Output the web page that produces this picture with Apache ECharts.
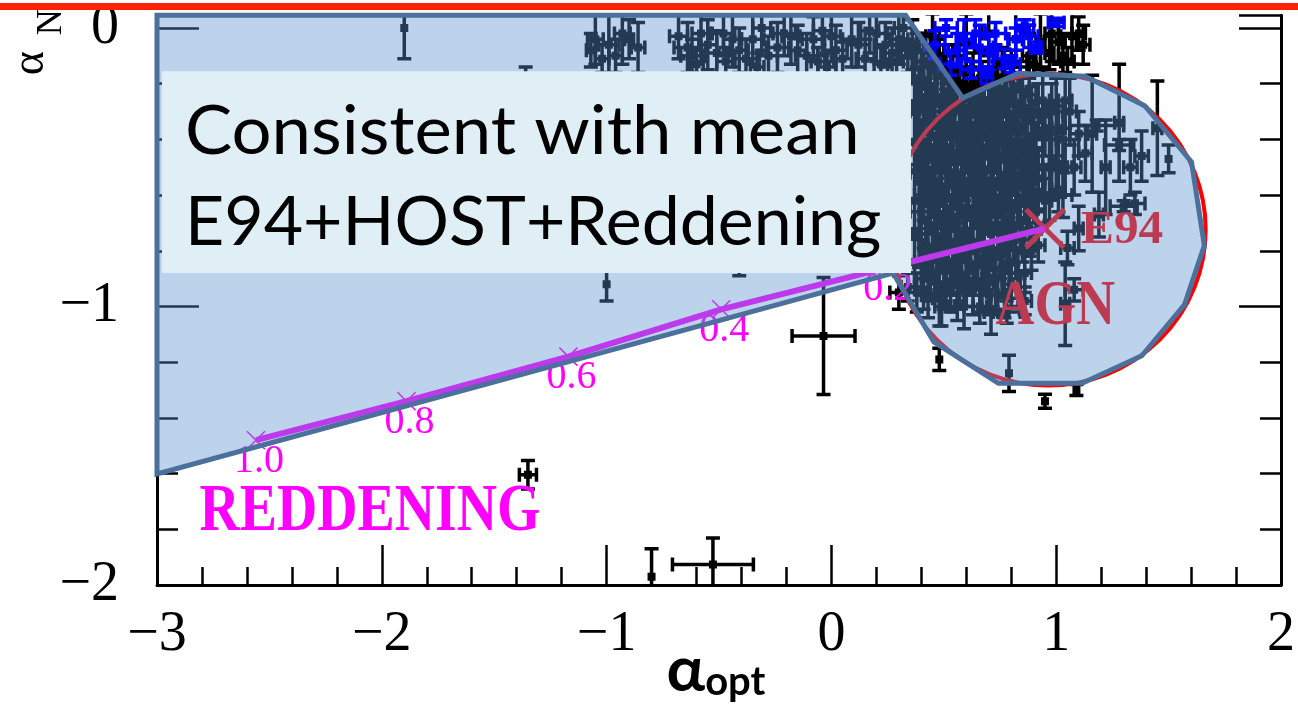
<!DOCTYPE html>
<html>
<head>
<meta charset="utf-8">
<script src="https://cdn.jsdelivr.net/npm/echarts@6/dist/echarts.min.js"></script>
<style>
html,body{margin:0;padding:0;background:#fff;}
#chart{width:1298px;height:706px;}
</style>
</head>
<body>
<div id="chart"></div>
<script>
// Axis ranges
const X_MIN = -3, X_MAX = 2;
const Y_MIN = -2, Y_MAX = 0.046;
const xTickValues = [-3, -2, -1, 0, 1, 2];
const yTickValues = [-2, -1, 0];

// Sources: [alpha_opt, alpha_N, err_opt, err_N]
const topClusterPoints = [
  [-1.05,-0.04,0.035,0.09],[-0.99,-0.06,0.045,0.11],[-0.93,-0.02,0.035,0.11],[-0.86,-0.07,0.03,0.09],[-1.02,-0.11,0.03,0.05],
  [-1.07,-0.08,0.02,0.06],[-0.96,-0.10,0.03,0.06],[-0.90,-0.04,0.02,0.07],
  [-0.64,-0.07,0.06,0.09],[-0.58,-0.02,0.04,0.10],[-0.51,-0.09,0.05,0.08],[-0.44,-0.04,0.04,0.10],[-0.38,-0.11,0.05,0.07],
  [-0.31,0.00,0.04,0.08],[-0.24,-0.07,0.05,0.09],[-0.18,-0.03,0.04,0.10],[-0.11,-0.10,0.05,0.08],[-0.04,-0.01,0.04,0.09],
  [0.02,-0.08,0.05,0.09],[0.09,-0.04,0.04,0.10],[0.15,-0.11,0.04,0.07],[0.20,-0.02,0.05,0.10],[0.27,-0.09,0.04,0.09],
  [0.32,0.00,0.04,0.08],[-0.60,-0.13,0.03,0.05],[-0.33,-0.14,0.03,0.05],[-0.02,-0.14,0.04,0.05],[0.22,-0.13,0.03,0.06],
  [0.36,-0.06,0.03,0.09],[0.41,-0.12,0.04,0.10],[0.45,-0.03,0.03,0.08],
  [-0.68,-0.03,0.04,0.08],[-0.62,-0.10,0.05,0.06],[-0.55,-0.06,0.04,0.09],[-0.48,-0.02,0.05,0.08],[-0.47,-0.12,0.04,0.05],
  [-0.41,-0.08,0.04,0.08],[-0.35,-0.04,0.05,0.09],[-0.28,-0.10,0.04,0.07],[-0.21,-0.02,0.05,0.08],[-0.15,-0.08,0.04,0.09],
  [-0.08,-0.04,0.05,0.08],[-0.06,-0.12,0.03,0.05],[0.00,-0.03,0.04,0.09],[0.05,-0.11,0.04,0.06],[0.12,-0.06,0.05,0.08],
  [0.17,-0.01,0.04,0.08],[0.24,-0.06,0.05,0.08],[0.29,-0.12,0.03,0.06],[0.30,-0.04,0.04,0.09],[0.34,-0.10,0.03,0.06]
];

const corePoints = [
  [0.37,-0.18,0.04,0.12],[0.37,-0.41,0.03,0.10],[0.37,-0.62,0.05,0.13],[0.37,-0.84,0.03,0.09],
  [0.39,-0.28,0.03,0.14],[0.39,-0.52,0.04,0.10],[0.39,-0.74,0.03,0.12],
  [0.41,-0.12,0.05,0.10],[0.41,-0.36,0.03,0.12],[0.41,-0.60,0.04,0.09],[0.41,-0.90,0.04,0.11],
  [0.43,-0.22,0.03,0.13],[0.43,-0.47,0.05,0.11],[0.43,-0.70,0.03,0.14],[0.43,-0.96,0.03,0.08],
  [0.45,-0.30,0.04,0.10],[0.45,-0.55,0.03,0.13],[0.45,-0.80,0.05,0.10],
  [0.47,-0.16,0.03,0.12],[0.47,-0.42,0.04,0.10],[0.47,-0.66,0.03,0.12],[0.47,-0.88,0.04,0.09],
  [0.49,-0.25,0.05,0.11],[0.49,-0.50,0.03,0.14],[0.49,-0.76,0.04,0.10],[0.49,-1.00,0.03,0.07],
  [0.51,-0.34,0.03,0.12],[0.51,-0.60,0.05,0.11],[0.51,-0.84,0.03,0.12],
  [0.53,-0.20,0.04,0.10],[0.53,-0.44,0.03,0.13],[0.53,-0.70,0.04,0.10],[0.53,-0.93,0.05,0.09],
  [0.55,-0.28,0.03,0.12],[0.55,-0.55,0.04,0.10],[0.55,-0.80,0.03,0.13],
  [0.57,-0.38,0.05,0.11],[0.57,-0.64,0.03,0.12],[0.57,-0.88,0.04,0.10],
  [0.59,-0.24,0.03,0.10],[0.59,-0.48,0.04,0.14],[0.59,-0.74,0.03,0.10],[0.59,-1.00,0.04,0.08],
  [0.61,-0.32,0.04,0.12],[0.61,-0.58,0.03,0.11],[0.61,-0.84,0.05,0.12],
  [0.63,-0.20,0.03,0.11],[0.63,-0.44,0.05,0.10],[0.63,-0.68,0.03,0.13],[0.63,-0.94,0.03,0.09],
  [0.65,-0.30,0.04,0.12],[0.65,-0.56,0.03,0.10],[0.65,-0.79,0.04,0.12],
  [0.67,-0.22,0.03,0.10],[0.67,-0.46,0.04,0.13],[0.67,-0.70,0.03,0.10],[0.67,-0.92,0.05,0.10],
  [0.69,-0.36,0.05,0.11],[0.69,-0.62,0.03,0.12],[0.69,-0.86,0.04,0.09],
  [0.71,-0.26,0.03,0.12],[0.71,-0.50,0.04,0.10],[0.71,-0.74,0.03,0.13],[0.71,-1.02,0.03,0.08],
  [0.73,-0.18,0.04,0.10],[0.73,-0.40,0.03,0.12],[0.73,-0.64,0.05,0.10],[0.73,-0.90,0.03,0.11],
  [0.75,-0.30,0.03,0.13],[0.75,-0.56,0.04,0.11],[0.75,-0.80,0.03,0.10],
  [0.77,-0.22,0.05,0.10],[0.77,-0.46,0.03,0.12],[0.77,-0.70,0.04,0.12],[0.77,-0.96,0.03,0.08],
  [0.79,-0.34,0.03,0.11],[0.79,-0.60,0.04,0.13],[0.79,-0.84,0.03,0.10],
  [0.81,-0.26,0.04,0.12],[0.81,-0.50,0.03,0.10],[0.81,-0.74,0.05,0.11],
  [0.83,-0.38,0.03,0.12],[0.83,-0.62,0.04,0.10],[0.83,-0.88,0.03,0.09],
  [0.85,-0.28,0.04,0.10],[0.85,-0.52,0.03,0.12],[0.85,-0.76,0.04,0.08],
  [0.87,-0.42,0.03,0.13],[0.87,-0.64,0.04,0.10],
  [0.89,-0.32,0.04,0.11],[0.89,-0.56,0.03,0.12],[0.89,-0.80,0.03,0.07],
  [0.91,-0.44,0.03,0.10],[0.91,-0.66,0.04,0.08],
  [0.94,-0.26,0.03,0.12],[0.94,-0.50,0.04,0.10],
  [0.97,-0.38,0.03,0.11],[0.97,-0.60,0.03,0.09],
  [1.00,-0.28,0.04,0.10],[1.00,-0.48,0.03,0.12],
  [1.03,-0.40,0.03,0.10],[1.03,-0.60,0.04,0.08],
  [1.06,-0.30,0.03,0.12],[1.08,-0.50,0.03,0.10],[1.10,-0.38,0.04,0.08],
  [0.30,-0.95,0.04,0.06],[0.34,-0.93,0.03,0.05],
  [0.38,-0.30,0.03,0.10],[0.38,-0.95,0.04,0.07],[0.38,-0.08,0.03,0.06],
  [0.40,-0.18,0.04,0.10],[0.40,-0.44,0.03,0.11],[0.40,-0.66,0.05,0.10],[0.40,-0.84,0.03,0.12],
  [0.42,-0.28,0.03,0.10],[0.42,-0.52,0.04,0.12],[0.42,-0.78,0.03,0.10],
  [0.44,-0.14,0.04,0.11],[0.44,-0.38,0.03,0.10],[0.44,-0.62,0.04,0.12],[0.44,-0.88,0.03,0.10],
  [0.46,-0.24,0.03,0.12],[0.46,-0.48,0.05,0.10],[0.46,-0.72,0.03,0.11],
  [0.48,-0.34,0.04,0.10],[0.48,-0.58,0.03,0.12],[0.48,-0.10,0.03,0.07],[0.48,-0.84,0.03,0.10],
  [0.50,-0.18,0.03,0.12],[0.50,-0.42,0.04,0.10],[0.50,-0.68,0.03,0.12],[0.50,-0.92,0.04,0.09],
  [0.52,-0.26,0.04,0.11],[0.52,-0.52,0.03,0.10],[0.52,-0.76,0.05,0.12],
  [0.54,-0.14,0.03,0.08],[0.54,-0.36,0.04,0.12],[0.54,-0.62,0.03,0.11],[0.54,-0.86,0.03,0.10],
  [0.56,-0.20,0.03,0.10],[0.56,-0.46,0.05,0.12],[0.56,-0.70,0.03,0.10],[0.56,-0.92,0.04,0.09],
  [0.58,-0.30,0.04,0.11],[0.58,-0.56,0.03,0.12],[0.58,-0.82,0.03,0.10],
  [0.60,-0.16,0.03,0.10],[0.60,-0.40,0.04,0.12],[0.60,-0.66,0.03,0.11],[0.60,-0.90,0.05,0.10],
  [0.62,-0.26,0.03,0.12],[0.62,-0.50,0.04,0.10],[0.62,-0.76,0.03,0.12],
  [0.64,-0.36,0.04,0.11],[0.64,-0.60,0.03,0.12],[0.64,-0.86,0.04,0.10],
  [0.66,-0.18,0.03,0.10],[0.66,-0.44,0.05,0.12],[0.66,-0.68,0.03,0.11],[0.66,-1.00,0.03,0.06],
  [0.68,-0.28,0.04,0.12],[0.68,-0.54,0.03,0.10],[0.68,-0.78,0.04,0.12],
  [0.70,-0.16,0.03,0.09],[0.70,-0.40,0.03,0.12],[0.70,-0.64,0.04,0.10],[0.70,-0.90,0.03,0.11],
  [0.72,-0.32,0.04,0.11],[0.72,-0.56,0.03,0.12],[0.72,-0.80,0.05,0.10],
  [0.74,-0.24,0.03,0.12],[0.74,-0.48,0.04,0.10],[0.74,-0.72,0.03,0.11],[0.74,-0.96,0.03,0.07],
  [0.76,-0.36,0.03,0.12],[0.76,-0.62,0.04,0.10],[0.76,-0.86,0.03,0.10],
  [0.78,-0.28,0.04,0.11],[0.78,-0.52,0.03,0.12],[0.78,-0.78,0.03,0.10],
  [0.80,-0.18,0.03,0.10],[0.80,-0.42,0.04,0.12],[0.80,-0.66,0.03,0.11],[0.80,-0.92,0.04,0.08],
  [0.82,-0.32,0.03,0.12],[0.82,-0.56,0.04,0.10],[0.82,-0.80,0.03,0.10],
  [0.84,-0.22,0.04,0.10],[0.84,-0.46,0.03,0.12],[0.84,-0.70,0.03,0.10],
  [0.86,-0.34,0.03,0.11],[0.86,-0.58,0.04,0.12],[0.86,-0.88,0.03,0.07],
  [0.88,-0.24,0.03,0.10],[0.88,-0.50,0.03,0.11],[0.88,-0.72,0.04,0.10],
  [0.90,-0.38,0.03,0.12],[0.90,-0.60,0.03,0.10],
  [0.92,-0.30,0.04,0.10],[0.92,-0.54,0.03,0.11],[0.92,-0.78,0.03,0.06],
  [0.95,-0.36,0.03,0.10],[0.95,-0.62,0.03,0.08],
  [0.98,-0.30,0.03,0.10],[0.98,-0.50,0.04,0.10],
  [1.01,-0.36,0.03,0.10],[1.01,-0.58,0.03,0.08],
  [1.04,-0.26,0.03,0.10],[1.04,-0.50,0.03,0.10]
];

const outerPoints = [
  [0.48,-0.97,0.03,0.10],[0.61,-0.93,0.09,0.03],[0.56,-1.00,0.03,0.05],[0.70,-0.96,0.04,0.07],
  [0.78,-1.02,0.06,0.04],[1.04,-0.99,0.02,0.15],[1.08,-0.94,0.04,0.04],[0.86,-0.98,0.03,0.05],
  [0.48,-1.19,0,0.04],[0.79,-1.24,0,0.065],[0.95,-1.34,0,0.025],[1.09,-1.30,0,0.02],
  [0.60,-0.05,0.03,0.10],[0.70,-0.02,0.03,0.08],[0.82,-0.04,0.03,0.10],[0.88,-0.10,0.03,0.08],
  [0.76,-0.13,0.04,0.06],[0.93,-0.05,0.02,0.10],[0.98,-0.02,0.03,0.10],[1.07,-0.03,0.05,0.10],
  [1.03,-0.10,0.02,0.08],[1.12,-0.06,0.03,0.07],
  [0.97,-0.09,0.02,0.06],[1.01,-0.05,0.03,0.08],[1.05,-0.12,0.03,0.05],[1.10,-0.02,0.03,0.06],[0.90,-0.13,0.03,0.04],
  [1.28,-0.34,0.02,0.21],[1.45,-0.36,0.02,0.17],[1.50,-0.47,0,0.05],
  [1.16,-0.38,0.02,0.21],[1.18,-0.35,0.12,0.02],[1.38,-0.46,0.03,0.09],[1.35,-0.63,0.045,0.04],
  [1.22,-0.50,0.02,0.17],[1.28,-0.42,0.065,0.02],[1.19,-0.67,0.02,0.08],[1.13,-0.45,0.03,0.10],
  [1.33,-0.50,0.03,0.10],[1.30,-0.64,0.06,0.02],[1.05,-0.79,0.03,0.06],[1.10,-0.72,0.02,0.08],
  [-1.90,0.00,0,0.11],[-1.36,-0.25,0,0.11],[-1.00,-0.92,0,0.06],[-0.41,-0.80,0,0.09],
  [-0.035,-1.106,0.14,0.21],[-1.35,-1.604,0.038,0.051],[-0.80,-1.97,0,0.10],[-0.527,-1.926,0.18,0.095]
];

const bluePoints = [
  [0.46,-0.06,0.045,0.05],[0.53,-0.13,0.05,0.04],[0.59,-0.04,0.035,0.07],[0.62,-0.15,0.045,0.03],
  [0.66,-0.07,0.06,0.08],[0.73,-0.02,0.045,0.04],[0.77,-0.11,0.05,0.035],[0.82,-0.04,0.035,0.04],
  [0.86,0.01,0.04,0.02],[0.91,-0.07,0.025,0.02],[1.00,0.02,0.035,0.015],[0.51,0.00,0.05,0.03],
  [0.69,-0.17,0.025,0.03],
  [0.56,-0.08,0.04,0.06],[0.64,-0.02,0.05,0.05],[0.70,-0.09,0.04,0.06],[0.80,-0.13,0.04,0.03],
  [0.88,-0.03,0.04,0.04]
];

// Reddening vector from the E94 template, marked in A_V steps
const reddeningPath = [[0.95,-0.72],[0.24,-0.862],[-0.49,-1.01],[-1.17,-1.18],[-1.89,-1.34],[-2.56,-1.48]];
const reddeningSteps = ['0.2','0.4','0.6','0.8','1.0'];

// Template / region annotations
const e94Point = [0.95, -0.72];
const agnLabelAt = [0.996, -1.004];
const reddeningLabelAt = [-2.053, -1.739];
const agnCircleCenter = [0.965, -0.724];
const agnCircleRadius = [0.70, 0.56];

// Shaded region: wedge plus the AGN locus
const regionPolygon = [
  [-3, Y_MAX],[0.33, Y_MAX],[0.584,-0.251],[0.832,-0.163],[1.128,-0.173],[1.394,-0.279],
  [1.602,-0.481],[1.659,-0.781],[1.571,-0.993],[1.381,-1.177],[1.115,-1.276],[0.743,-1.276],
  [0.456,-1.127],[0.274,-0.880],[-3,-1.601]
];

const noteBox = [[-2.978,-0.155],[0.354,-0.880]];
const noteLines = ['Consistent with mean', 'E94+HOST+Reddening'];

function fmtTick(v){
  if (Math.abs(v - Math.round(v)) > 1e-9) return '';
  const r = Math.round(v);
  return r < 0 ? '\u2212' + (-r) : String(r);
}

function errorBars(color){
  return function(params, api){
    const x = api.value(0), y = api.value(1), xe = api.value(2), ye = api.value(3);
    const c = api.coord([x, y]);
    const cap = 7;
    const kids = [];
    const st = () => ({stroke: color, lineWidth: 3.5});
    if (ye > 0){
      const t = api.coord([x, y + ye]), b = api.coord([x, y - ye]);
      kids.push({type:'line', shape:{x1:c[0], y1:t[1], x2:c[0], y2:b[1]}, style:st()});
      kids.push({type:'line', shape:{x1:c[0]-cap, y1:t[1], x2:c[0]+cap, y2:t[1]}, style:st()});
      kids.push({type:'line', shape:{x1:c[0]-cap, y1:b[1], x2:c[0]+cap, y2:b[1]}, style:st()});
    }
    if (xe > 0){
      const l = api.coord([x - xe, y]), r = api.coord([x + xe, y]);
      kids.push({type:'line', shape:{x1:l[0], y1:c[1], x2:r[0], y2:c[1]}, style:st()});
      kids.push({type:'line', shape:{x1:l[0], y1:c[1]-cap, x2:l[0], y2:c[1]+cap}, style:st()});
      kids.push({type:'line', shape:{x1:r[0], y1:c[1]-cap, x2:r[0], y2:c[1]+cap}, style:st()});
    }
    kids.push({type:'rect', shape:{x:c[0]-4, y:c[1]-4, width:8, height:8}, style:{fill: color}});
    return {type:'group', children: kids};
  };
}

const chart = echarts.init(document.getElementById('chart'), null, {renderer:'canvas'});

const tickStyle = {color:'#000', width:2.5};
function yAxisCfg(pos, showLabel){
  return {
    type:'value', position: pos, min: Y_MIN, max: Y_MAX, interval: 1,
    axisLine:{show:true, onZero:false, lineStyle:{color:'#000', width:3}},
    axisTick:{show:true, inside:true, length:42, lineStyle:tickStyle},
    minorTick:{show:true, splitNumber:5, length:21, lineStyle:tickStyle},
    splitLine:{show:false}, minorSplitLine:{show:false},
    axisLabel:{show: showLabel, margin: 38, formatter: fmtTick,
      fontFamily:'Liberation Serif', fontSize:56, color:'#000'}
  };
}

const option = {
  animation: false,
  backgroundColor: '#fff',
  grid: {left: 157, right: 11, top: 6, bottom: 121, containLabel: false},
  xAxis: {
    type:'value', min: X_MIN, max: X_MAX, interval: 1,
    axisLine:{show:true, onZero:false, lineStyle:{color:'#000', width:3}},
    axisTick:{show:true, inside:true, length:40, lineStyle:tickStyle},
    minorTick:{show:true, splitNumber:5, length:18, lineStyle:tickStyle},
    splitLine:{show:false}, minorSplitLine:{show:false},
    axisLabel:{margin: 22, formatter: fmtTick, fontFamily:'Liberation Serif', fontSize:56, color:'#000',
      showMinLabel:true, showMaxLabel:true}
  },
  yAxis: [yAxisCfg('left', true), yAxisCfg('right', false)],
  series: [
    {type:'custom', name:'sources', data: topClusterPoints.concat(corePoints, outerPoints),
      encode:{x:0, y:1}, renderItem: errorBars('#000'), clip:true, silent:true, z:2},
    {type:'custom', name:'sources (blue)', data: bluePoints,
      encode:{x:0, y:1}, renderItem: errorBars('#0000ff'), clip:true, silent:true, z:2},
    {type:'line', name:'reddening', data: reddeningPath, showSymbol:false, symbol:'none',
      lineStyle:{color:'#ff00ff', width:6}, silent:true, z:3},
    {type:'custom', name:'reddening steps', data: reddeningPath.slice(1), encode:{x:0, y:1}, silent:true, z:3,
      renderItem: function(params, api){
        const c = api.coord([api.value(0), api.value(1)]);
        const s = 9;
        return {type:'group', children:[
          {type:'line', shape:{x1:c[0]-s, y1:c[1]-s, x2:c[0]+s, y2:c[1]+s}, style:{stroke:'#ff00ff', lineWidth:1.5}},
          {type:'line', shape:{x1:c[0]-s, y1:c[1]+s, x2:c[0]+s, y2:c[1]-s}, style:{stroke:'#ff00ff', lineWidth:1.5}},
          {type:'text', x:c[0]+3, y:c[1]+21, style:{text: reddeningSteps[params.dataIndex],
            fontFamily:'Liberation Serif', fontSize:40, fill:'#ff00ff', align:'center', verticalAlign:'middle'}}
        ]};
      }},
    {type:'custom', name:'labels', data:[e94Point], encode:{x:0, y:1}, silent:true, z:3,
      renderItem: function(params, api){
        const c = api.coord(e94Point);
        const a = api.coord(agnLabelAt);
        const r = api.coord(reddeningLabelAt);
        const s = 19;
        return {type:'group', children:[
          {type:'line', shape:{x1:c[0]-s, y1:c[1]-s, x2:c[0]+s, y2:c[1]+s}, style:{stroke:'#ff0000', lineWidth:5}},
          {type:'line', shape:{x1:c[0]-s, y1:c[1]+s, x2:c[0]+s, y2:c[1]-s}, style:{stroke:'#ff0000', lineWidth:5}},
          {type:'text', x:c[0]+36, y:c[1]+2, scaleX:1.05, style:{text:'E94', fontFamily:'Liberation Serif', fontWeight:'bold',
            fontSize:47, fill:'#ff0000', align:'left', verticalAlign:'middle'}},
          {type:'text', x:a[0], y:a[1], scaleX:0.84, style:{text:'AGN', fontFamily:'Liberation Serif', fontWeight:'bold',
            fontSize:64, fill:'#ff0000', align:'center', verticalAlign:'middle'}},
          {type:'text', x:r[0], y:r[1], scaleX:0.82, style:{text:'REDDENING', fontFamily:'Liberation Serif', fontWeight:'bold',
            fontSize:68, fill:'#ff00ff', align:'center', verticalAlign:'middle'}}
        ]};
      }},
    {type:'custom', name:'AGN locus', data:[agnCircleCenter], encode:{x:0, y:1}, silent:true, z:3, clip:true,
      renderItem: function(params, api){
        const c = api.coord(agnCircleCenter);
        const rx = api.size([agnCircleRadius[0], 0])[0];
        const ry = api.size([0, agnCircleRadius[1]])[1];
        return {type:'circle', x:c[0], y:c[1], scaleY: ry/rx, shape:{cx:0, cy:0, r:rx},
          style:{fill:'none', stroke:'#ff0000', lineWidth:4}};
      }},
    {type:'custom', name:'consistent region', data:[regionPolygon[0]], encode:{x:0, y:1}, silent:true, z:5,
      renderItem: function(params, api){
        const pts = regionPolygon.map(p => api.coord(p));
        return {type:'polygon', shape:{points: pts},
          style:{fill:'rgba(91,146,207,0.4)', stroke:'#4a709b', lineWidth:5, lineJoin:'miter'}};
      }},
    {type:'custom', name:'note', data:[noteBox[0]], encode:{x:0, y:1}, silent:true, z:6,
      renderItem: function(params, api){
        const tl = api.coord(noteBox[0]), br = api.coord(noteBox[1]);
        const w = br[0]-tl[0], h = br[1]-tl[1];
        return {type:'group', children:[
          {type:'rect', shape:{x:tl[0], y:tl[1], width:w, height:h}, style:{fill:'#e0eff5'}},
          {type:'text', x:tl[0]+23, y:tl[1]+h*0.30, scaleX:1.04, style:{text: noteLines[0], fontFamily:'Lato',
            fontSize:68, fill:'#000', align:'left', verticalAlign:'middle'}},
          {type:'text', x:tl[0]+23, y:tl[1]+h*0.75, scaleX:1.0, style:{text: noteLines[1], fontFamily:'Lato',
            fontSize:68, fill:'#000', align:'left', verticalAlign:'middle'}}
        ]};
      }},
    {type:'custom', name:'y title', data:[[X_MIN, Y_MAX]], encode:{x:0, y:1}, silent:true, z:7, clip:false,
      renderItem: function(params, api){
        const o = api.coord([X_MIN, Y_MAX]);
        return {type:'group', children:[
          {type:'text', x:o[0]-126, y:o[1]+60, rotation: Math.PI/2, style:{text:'\u03b1', fontFamily:'Liberation Serif',
            fontSize:46, fill:'#000', align:'left', verticalAlign:'middle'}},
          {type:'text', x:o[0]-105, y:o[1]+20, rotation: Math.PI/2, style:{text:'N', fontFamily:'Liberation Serif',
            fontSize:36, fill:'#000', align:'left', verticalAlign:'middle'}}
        ]};
      }}
  ],
  graphic: [
    {type:'rect', left:0, top:0, shape:{width:1298, height:3}, style:{fill:'#fff'}, z:100},
    {type:'rect', left:0, top:3, shape:{width:1298, height:7}, style:{fill:'#ff2200'}, z:100},
    {type:'text', x:716, y:702, z:99,
      style:{text:'{a|\u03b1}{o|opt}', align:'center', verticalAlign:'bottom',
        rich:{a:{fontFamily:'Lato', fontWeight:'bold', fontSize:64, fill:'#000', verticalAlign:'bottom'},
              o:{fontFamily:'Lato', fontWeight:'bold', fontSize:40, fill:'#000', verticalAlign:'bottom'}}}}
  ]
};

chart.setOption(option);
</script>
</body>
</html>
